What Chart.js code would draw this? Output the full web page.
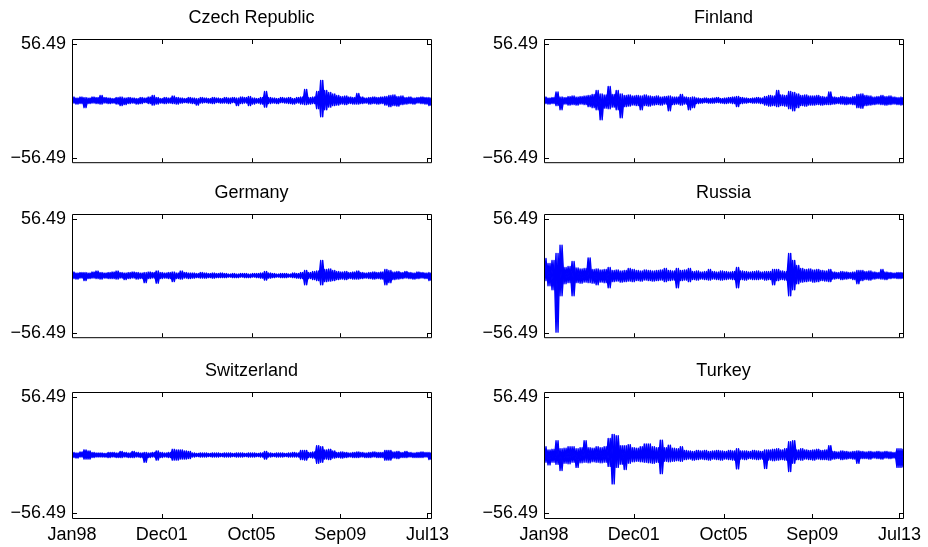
<!DOCTYPE html>
<html>
<head>
<meta charset="utf-8">
<script src="https://cdn.jsdelivr.net/npm/chart.js@4.4.1/dist/chart.umd.min.js"></script>
<style>
html,body{margin:0;padding:0;background:#fff;}
body{width:928px;height:547px;position:relative;overflow:hidden;}
canvas{position:absolute;}
</style>
</head>
<body>
<script>
// ---- data ----
const countries = ['Czech Republic','Finland','Germany','Russia','Switzerland','Turkey'];
const xTickLabels = ['Jan98','Dec01','Oct05','Sep09','Jul13'];
const xTickValues = [0, 250, 500, 747, 990];
const xMax = 1000;
const yTickValues = [-56.49, 56.49];
const yTickLabels = ['\u221256.49', '56.49'];
const yLimit = 61;

// upper / lower swings of the daily returns (one pair per ~2 months)
const czechHi = [3.5,2.5,3.5,3,2.5,3.5,3,5,3,2.5, 2,3,3.5,2.5,3,2.5,2,3,2.5,3.5, 5,3,2,3,2.5,4.5,3,2.5,2,3, 2.5,2,3,2.5,2,3,2.5,2,3,2.5, 3,2.5,3.5,3,4,2.5,2,3,9,3, 2.5,2,3,2.5,3,2,3,3.5,11,3, 3.5,9,20,10,8,6.5,5,4,4.5,3.5, 3,7,3.5,2.5,3,3.5,3,3.5,4,5, 5.5,4,4.5,3,3.5,2.5,3,3.5,3,3];
const czechLo = [-2.5,-3.5,-3,-7,-3,-2.5,-3,-3.5,-2.5,-3, -2.5,-3.5,-5,-4,-3,-2.5,-3.5,-3,-2,-3, -4.5,-3.5,-2.5,-3,-2.5,-3,-3.5,-2.5,-2,-2.5, -3,-4.5,-2.5,-2,-2.5,-3,-2,-2.5,-2.5,-3, -2,-5,-3,-2.5,-5,-3.5,-2.5,-3.5,-6.5,-3, -2.5,-3,-2,-2.5,-3,-3.5,-2.5,-3.5,-4,-3.5, -3,-8,-16,-9,-6.5,-5,-4.5,-3.5,-4,-3, -3.5,-3.5,-3,-2.5,-3.5,-3,-3.5,-3,-4.5,-6, -5,-5.5,-4,-3.5,-3,-3.5,-2.5,-3,-3.5,-5];

const finlandHi = [3.5,2.5,3,8.5,3.5,3,4,4.5,3.5,4, 4.5,5,6,10,6.5,5.5,14,6,10,6.5, 5,5.5,4.5,5,4.5,5.5,4.5,4,4.5,3.5, 4,4.5,3.5,3.5,6,3.5,3,3.5,2.5,2, 2.5,2,2.5,3,2,2.5,3,3.5,4,3, 2.5,2,2.5,3,2.5,4,5,4.5,10,5.5, 5,9,8,6.5,5,5.5,4.5,4.5,5,4, 3.5,8.5,3.5,3,4,3.5,3,4,6,6.5, 5,4.5,3.5,4,5,4,4.5,3.5,3,3.5];
const finlandLo = [-3,-3.5,-3,-5,-9,-3.5,-4.5,-4,-4.5,-3.5, -4,-6,-7,-9,-19,-7.5,-8,-6.5,-9,-17, -6,-5.5,-4.5,-5,-9,-5,-5.5,-4.5,-4,-4.5, -3.5,-10,-4,-3.5,-4.5,-3.5,-9,-7,-3,-2.5, -2,-2.5,-2.5,-2,-2.5,-3,-2.5,-3,-6,-3, -2.5,-2,-2.5,-2.5,-3,-4.5,-5.5,-5,-6,-5, -5.5,-8,-10,-7,-5,-5.5,-4.5,-4.5,-4,-4.5, -4,-4,-3.5,-3,-3.5,-4,-3.5,-4,-7,-7.5, -5,-4.5,-4,-3.5,-4,-4.5,-4,-3.5,-4,-4.5];

const germanyHi = [3.5,2.5,3,3,2.5,3.5,4.5,3,2.5,3, 3.5,4.5,3,2.5,3,3.5,3,2.5,3,3.5, 3,4.5,3,2.5,3,3.5,2.5,4.5,3,2.5, 2.5,2,3,2.5,2,2.5,2,2.5,2,1.5, 2,1.5,2,2,1.5,2,2,2.5,4,2.5, 2,1.5,2,2,1.5,2.5,2,3,5,3, 4,4.5,15,6,6.5,5,4,3.5,4,3, 3.5,4.5,3,2.5,3,3.5,3,3.5,6,5, 3.5,4,3,4,3,2.5,3.5,3,2.5,3];
const germanyLo = [-3,-3.5,-2.5,-5,-3,-2.5,-3,-3.5,-2.5,-3, -3,-3.5,-2.5,-4,-3,-2.5,-3.5,-3,-7,-3, -2.5,-7.5,-3,-2.5,-3,-6,-3,-3.5,-2.5,-3, -2.5,-2,-2.5,-2.5,-2,-2.5,-2,-2,-2,-1.5, -2,-2,-1.5,-2,-2,-1.5,-2,-2.5,-4.5,-2.5, -2,-1.5,-2,-2,-1.5,-2,-2.5,-3,-9,-3, -4,-5,-9,-6,-5.5,-5,-4,-3.5,-4,-3, -3.5,-3.5,-3,-2.5,-3,-3.5,-3,-3.5,-9,-7, -4,-3.5,-3,-2.5,-3,-3.5,-3,-2.5,-3,-5];

const russiaHi = [17,12,15,22,30,8,9,14,7.5,6.5, 7,17.5,6,6.5,5.5,6,8,5,5.5,4.5, 5,7,6,5,4.5,5.5,5,4.5,5,5.5, 7,5,4.5,7,5,5.5,7,4,4.5,3.5, 4,6,4,3.5,4.5,4,3.5,4,8,4.5, 4,3.5,4,4.5,3.5,4,4,6,6,4.5, 4,22,15,10,7,6,6.5,5.5,6,5, 4.5,6,3.5,3,4,3.5,3,3.5,5,5, 4,4.5,3.5,3,6,3.5,3,2.5,3,3];
const russiaLo = [-5,-10,-14,-56,-20,-8,-7,-20,-7,-7.5, -6.5,-7,-7.5,-9,-6.5,-7,-12,-6,-5.5,-6.5, -6,-5.5,-6,-5,-5.5,-4.5,-5,-5.5,-5,-4.5, -6,-5,-4.5,-12,-5,-4.5,-6,-4,-4.5,-3.5, -4,-4.5,-3.5,-4,-4.5,-4,-3.5,-4,-12,-4, -4.5,-3.5,-4,-4,-3.5,-4.5,-4,-9,-5,-4, -4.5,-20,-14,-8,-6.5,-6,-5.5,-6.5,-6,-5, -5.5,-6,-3.5,-3,-4,-3.5,-3,-4,-8,-5, -4,-4.5,-3.5,-3,-3.5,-4,-3,-2.5,-3,-3];

const switzerlandHi = [2.5,2,3,5,4,2.5,2,2,1.5,2.5, 2.5,2,3.5,2.5,2,3.5,2.5,2,2.5,2, 2.5,4,2.5,2,2.5,5.5,5,5,4,3.5, 2,1.5,2,2,1.5,2,2,1.5,2,2, 1.5,2,2,1.5,2,2,1.5,2,3.5,2, 1.5,2,2,1.5,2,2.5,2,4.5,4.5,2.5, 3,9,8,5,5.5,4,2.5,3,2.5,2, 2.5,3,2.5,2,2.5,3,2.5,2.5,4.5,4.5, 3,3.5,2.5,3.5,2.5,2,2.5,3,2.5,2.5];
const switzerlandLo = [-2.5,-3,-2,-4,-4,-2.5,-2,-2,-2,-2.5, -2,-2.5,-2.5,-2,-2.5,-2.5,-2,-2.5,-7,-2.5, -2,-5,-2.5,-2,-2.5,-5,-5,-4,-4,-3.5, -2,-1.5,-2,-2,-1.5,-2,-2,-1.5,-2,-2, -1.5,-2,-2,-1.5,-2,-2,-1.5,-2,-4,-2, -1.5,-2,-2,-1.5,-2,-2,-2,-4.5,-5,-2.5, -3,-8,-7,-4,-4.5,-3,-2.5,-3,-2.5,-2, -2.5,-2.5,-2,-2.5,-2.5,-2,-2.5,-2.5,-5,-5, -3,-3.5,-2.5,-2.5,-2,-2.5,-2.5,-2.5,-2,-4.5];

const turkeyHi = [8,5,5.5,13.8,6,6.5,8,8,6,7, 13.8,7,6.5,8,7,8,16,20,18.6,9, 9,10,7,6.5,8,10.6,10.6,8,7,14.4, 7,9.6,6.5,6,8,4.5,4,3.5,4.5,4, 4.5,3.5,4,4.5,4,3.5,4.5,4,6,4, 4,3.5,4.5,4,3.5,5,5,5.5,6,5, 6,12.8,13.8,5,6,5,4.5,5,5.5,4.5, 5,9,3.5,3,4,3.5,3,3.5,4,3.5, 3,3.5,3,3.5,3,3.5,3,2.5,6,6];
const turkeyLo = [-7,-9.6,-7,-9,-15,-8,-8.5,-7,-12,-7.5, -7,-7.5,-6.5,-7,-7.5,-7,-11,-28,-12,-9, -14,-8,-6.5,-6,-6.5,-7,-7.5,-8,-7,-18, -6,-6.5,-6,-5.5,-6,-4.5,-4,-5,-4.5,-4, -4.5,-5,-4,-4.5,-5,-4,-4.5,-5,-13.4,-4, -4.5,-3.5,-4,-4.5,-4,-13,-5,-5.5,-5,-4.5, -5,-16,-8,-4.5,-5,-4,-4.5,-5,-4,-4.5, -4.5,-5,-4,-3.5,-4.5,-4,-3.5,-4,-8,-3.5, -3.5,-4,-3,-3.5,-4,-3,-3.5,-3,-12,-12];

const seriesHi = [czechHi, finlandHi, germanyHi, russiaHi, switzerlandHi, turkeyHi];
const seriesLo = [czechLo, finlandLo, germanyLo, russiaLo, switzerlandLo, turkeyLo];

// ---- layout ----
const canvasLeft = [0, 464];
const plotLeft = [72, 544];
const plotRight = [431, 903];
const plotTop = [39, 214, 392];
const plotH = 126;
const titleH = 39;

Chart.defaults.font.family = '"Liberation Sans", Arial, Helvetica, sans-serif';
Chart.defaults.font.size = 18;
Chart.defaults.color = '#000';

const framePlugin = {
  id: 'frame',
  afterDatasetsDraw(chart) {
    const ctx = chart.ctx, a = chart.chartArea;
    const xs = chart.scales.x, ys = chart.scales.y;
    const L = 4;
    ctx.save();
    ctx.strokeStyle = '#000';
    ctx.lineWidth = 1;
    ctx.beginPath();
    ctx.rect(a.left + 0.5, a.top + 0.5, a.right - a.left, a.bottom - a.top);
    xs.ticks.forEach(t => {
      const px = Math.round(xs.getPixelForValue(t.value)) + 0.5;
      ctx.moveTo(px, a.bottom); ctx.lineTo(px, a.bottom - L);
      ctx.moveTo(px, a.top + 1); ctx.lineTo(px, a.top + 1 + L);
    });
    ys.ticks.forEach(t => {
      const py = Math.round(ys.getPixelForValue(t.value)) + 0.5;
      ctx.moveTo(a.left + 1, py); ctx.lineTo(a.left + 1 + L, py);
      ctx.moveTo(a.right, py); ctx.lineTo(a.right - L, py);
    });
    ctx.stroke();
    ctx.restore();
  }
};

countries.forEach((name, i) => {
  const col = i % 2, row = Math.floor(i / 2);
  const last = row === 2;
  const bottomH = last ? 547 - (plotTop[row] + plotH) : 14;
  const cw = 464;
  const ch = titleH + plotH + bottomH;
  const cv = document.createElement('canvas');
  cv.width = cw; cv.height = ch;
  cv.style.left = canvasLeft[col] + 'px';
  cv.style.top = (plotTop[row] - titleH) + 'px';
  cv.style.width = cw + 'px'; cv.style.height = ch + 'px';
  document.body.appendChild(cv);

  const hi = seriesHi[i], lo = seriesLo[i];
  const n = hi.length * 2;
  // the return series: alternating swing up / swing down
  const pts = [];
  // same swings in opposite order, used to shade the dense band between them
  const ptsSwap = [];
  for (let k = 0; k < hi.length; k++) {
    const xa = (2 * k) * xMax / (n - 1), xb = (2 * k + 1) * xMax / (n - 1);
    pts.push({x: xa, y: hi[k]});
    pts.push({x: xb, y: lo[k]});
    ptsSwap.push({x: xa, y: lo[k]});
    ptsSwap.push({x: xb, y: hi[k]});
  }
  const yAxisW = plotLeft[col] - canvasLeft[col];
  const padRight = canvasLeft[col] + cw - plotRight[col];

  new Chart(cv, {
    type: 'line',
    data: { datasets: [{
      data: pts,
      borderColor: '#0000ff',
      backgroundColor: '#0000ff',
      borderWidth: 1.4,
      borderJoinStyle: 'round',
      pointRadius: 0,
      tension: 0,
      fill: '+1'
    }, {
      data: ptsSwap,
      borderColor: '#0000ff',
      borderWidth: 1.4,
      borderJoinStyle: 'round',
      pointRadius: 0,
      tension: 0,
      fill: false
    }]},
    options: {
      responsive: false,
      animation: false,
      devicePixelRatio: 1,
      events: [],
      layout: { padding: { left: 0, right: padRight, top: 0, bottom: 0 } },
      plugins: {
        legend: { display: false },
        tooltip: { enabled: false },
        title: {
          display: true, text: name, fullSize: false,
          font: { size: 18, weight: 'normal', lineHeight: 1 },
          color: '#000',
          padding: { top: 9.5, bottom: titleH - 18 - 9.5 }
        }
      },
      scales: {
        x: {
          type: 'linear', min: 0, max: xMax,
          grid: { display: false, drawTicks: false },
          border: { display: false },
          afterBuildTicks: s => { s.ticks = xTickValues.map(v => ({value: v})); },
          afterFit: s => { s.height = bottomH; },
          ticks: {
            display: last, autoSkip: false, maxRotation: 0, padding: 6,
            callback: (v, idx) => xTickLabels[idx]
          }
        },
        y: {
          type: 'linear', min: -yLimit, max: yLimit,
          grid: { display: false, drawTicks: false },
          border: { display: false },
          afterBuildTicks: s => { s.ticks = yTickValues.map(v => ({value: v})); },
          afterFit: s => { s.width = yAxisW; },
          ticks: { padding: 6, callback: (v, idx) => yTickLabels[idx] }
        }
      }
    },
    plugins: [framePlugin]
  });
});
</script>
</body>
</html>
